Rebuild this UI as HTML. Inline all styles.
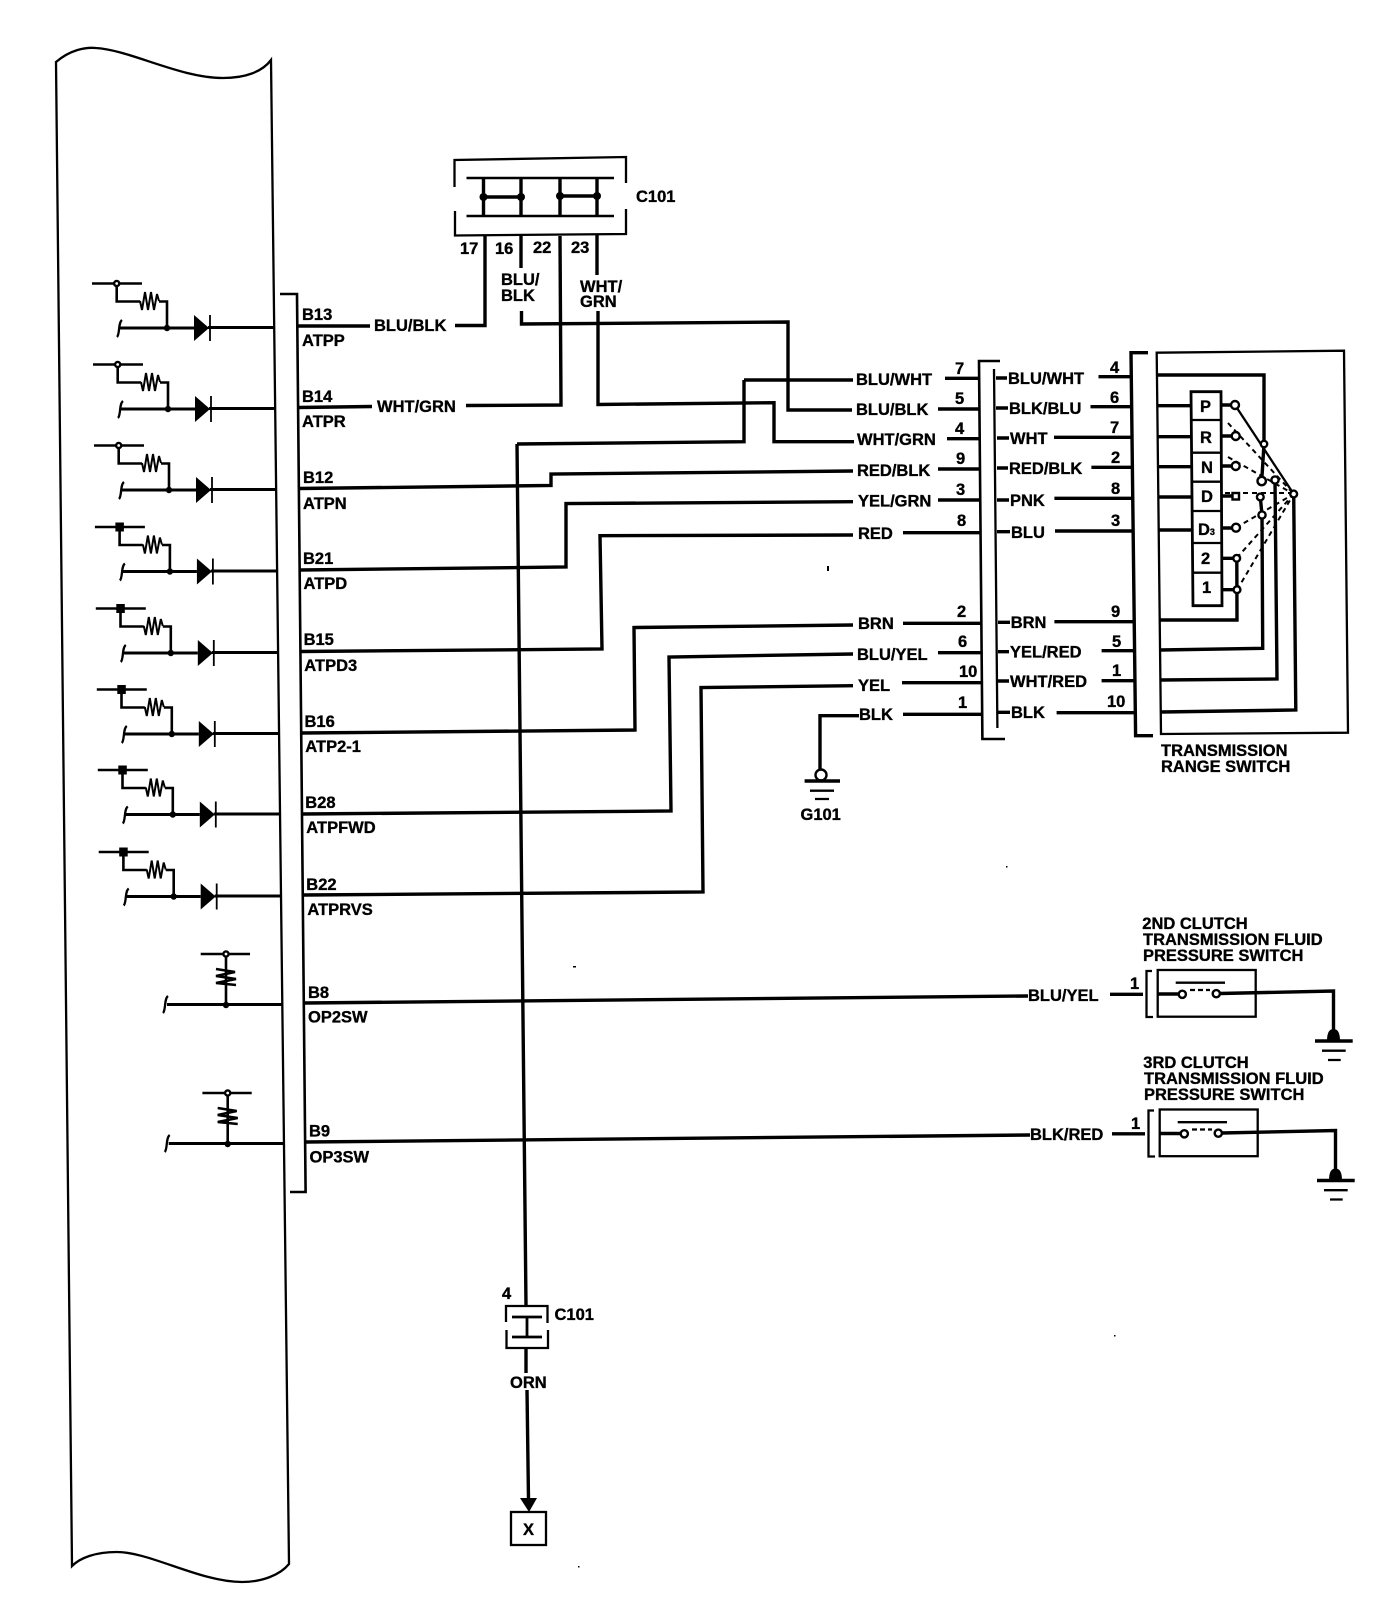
<!DOCTYPE html>
<html><head><meta charset="utf-8"><style>
html,body{margin:0;padding:0;background:#fff;width:1392px;height:1612px;overflow:hidden}
svg{display:block}
text{font-family:"Liberation Sans",sans-serif;font-weight:bold;font-size:16.5px;fill:#000;stroke:#000;stroke-width:.35}
.w{fill:none;stroke:#000;stroke-width:3.4}
.t{fill:none;stroke:#000;stroke-width:2.3}
.d{fill:none;stroke:#000;stroke-width:2;stroke-dasharray:5 4}
.n{fill:#fff;stroke:#000;stroke-width:2.4}
</style></head><body>
<svg width="1392" height="1612" viewBox="0 0 1392 1612" xmlns="http://www.w3.org/2000/svg">
<defs>
<g id="base">
<path class="t" d="M92 283.5H142M116.7 283.5V301.5H140M159 301.5H167V328" style="stroke-width:2.6"/>
<polyline points="140,301 142,310 145,292 148,310 151,292 154,310 157,294 159,301" fill="none" stroke="#000" stroke-width="2"/>
<path class="w" d="M120 328H194M208 327.5H275" style="stroke-width:3"/>
<path class="t" d="M122 320C118 323 120 334 117 337"/>
<circle cx="167" cy="328" r="3.2"/>
<polygon points="194,315 194,341 209,328"/>
<path d="M210 315V341" stroke="#000" stroke-width="1.8"/>
</g>
<g id="openrow"><use href="#base"/><circle class="n" cx="116.7" cy="283.5" r="2.6"/></g>
<g id="fillrow"><use href="#base"/><rect x="112.5" y="279" width="8.5" height="9"/></g>
<g id="srow">
<path class="t" d="M200.7 954H250M226 954V1005" style="stroke-width:2.6"/>
<path d="M216 969L235 972L216 976L236 979L216 983L236 985" fill="none" stroke="#000" stroke-width="2.6"/>
<path class="w" d="M167 1004.5H282" style="stroke-width:3"/>
<path class="t" d="M168 996C164 999 166 1010 163 1013"/>
<circle cx="226" cy="1005" r="3.2"/>
<circle class="n" cx="226" cy="954" r="2.6"/>
</g>
<g id="clutch">
<path class="w" d="M1110 994.3H1143" />
<path class="t" d="M1152 971H1146.5V1017H1153"/>
<rect class="t" x="1157.7" y="970" width="98" height="46.7"/>
<path class="w" d="M1158 994H1178M1220 993.5L1333.5 991V1033"/>
<circle class="n" cx="1182.3" cy="994.3" r="3.6"/>
<circle class="n" cx="1216.3" cy="993.7" r="3.6"/>
<path class="t" d="M1175.7 982.7H1225"/>
<path class="t" d="M1190 990H1210" stroke-dasharray="5 3"/>
<path d="M1327 1041C1327 1033 1329 1029 1333.5 1029C1338 1029 1340 1033 1340 1041Z"/>
<path class="w" d="M1315 1041H1352.7"/>
<path class="t" d="M1322 1050.7H1345.7M1328 1060H1340.7"/>
</g>
</defs>

<!-- panel -->
<path class="t" d="M56 62C70 50 85 47 96 48C130 50 180 78 223 78C245 78 262 72 271 60L289 1564C280 1575 262 1582 242 1582C200 1582 150 1552 117 1552C95 1552 80 1558 72 1566Z"/>

<!-- signal rows -->
<use href="#openrow"/>
<use href="#openrow" transform="translate(1,81)"/>
<use href="#openrow" transform="translate(2,162)"/>
<use href="#fillrow" transform="translate(2.9,243.5)"/>
<use href="#fillrow" transform="translate(3.8,325)"/>
<use href="#fillrow" transform="translate(4.8,406)"/>
<use href="#fillrow" transform="translate(5.8,486.5)"/>
<use href="#fillrow" transform="translate(6.7,568.5)"/>
<use href="#srow"/>
<use href="#srow" transform="translate(1.7,139)"/>

<!-- inner connector -->
<path class="t" d="M280 294H297L305.6 1192H290" style="stroke-width:2.6"/>

<!-- C101 top -->
<path class="t" d="M454.5 187V160L626 157V183M626 209V234L455 235.5V211"/>
<path class="w" d="M466.5 178H614M466.5 216H614" style="stroke-width:2.6"/>
<path class="w" d="M483.5 178V216M521 178V216M560 178V216M597 178V216"/>
<path class="w" d="M483.5 197H521M560 196H597"/>
<circle cx="483.5" cy="197" r="4"/><circle cx="521" cy="197" r="4"/><circle cx="560" cy="196" r="4"/><circle cx="597" cy="196" r="4"/>

<!-- main wires -->
<g class="w" fill="none">
<path class="w" d="M297 326H370"/>
<path class="w" d="M455 325.5H485V236"/>
<path class="w" d="M521 236V268M521.5 311V324L788 322V410H852"/>
<path class="w" d="M298 407.5L372 406.5"/>
<path class="w" d="M466 405.5L561 405L560 236"/>
<path class="w" d="M597 234V275M598 311V404.5L774 402.7V441.7H854"/>
<path class="w" d="M744 380H853M517 444L744 441.7V380M517 444L526 1306M526 1348V1373M527 1390L528.5 1500"/>
<path class="w" d="M299 488.5L551 485.5V474L853 471"/>
<path class="w" d="M300 570L566 567V503.6L853 501.7"/>
<path class="w" d="M301 651.5L602 649L600 535.7L853 535"/>
<path class="w" d="M302 733L635 730L634 627.5L853 625"/>
<path class="w" d="M303 814L671 811L669 657L853 654"/>
<path class="w" d="M304 895L703 892L701 687.5L853 685.7"/>
<path class="w" d="M305 1003L1028 996"/>
<path class="w" d="M306 1142L1030 1135"/>
<path class="w" d="M820 770V715.7H859"/>
</g>

<!-- lower C101 & X -->
<path class="t" d="M506 1322V1306H547.5V1323M506.5 1330V1348H548V1330"/>
<path class="w" d="M512 1317H542M512 1337H542M527 1317V1337" style="stroke-width:2.8"/>
<polygon points="520,1498 537,1498 529,1512"/>
<rect class="t" x="511" y="1512" width="35" height="33"/>

<!-- G101 -->
<circle class="n" cx="821" cy="775" r="5.5"/>
<path class="w" d="M804.6 781H840"/>
<path class="t" d="M810 790.7H834M815 799H829"/>

<!-- left connector 2 -->
<path class="t" d="M1000 361H979L982.4 739H1005" style="stroke-width:2.6"/>
<path class="t" d="M994 369L997.4 728"/>
<g class="w">
<path class="w" d="M945 378.3H979M938 409H980M947 438.7H980M938 469H980M938 500H980M903 532.7H981M903 623.3H981M938 652.7H982M902 682.7H982M903 714.3H982"/>
<path class="w" d="M996 378H1007M996 408H1008M997 438H1009M997 468H1008M997 500H1009M997 531.7H1010M998 622.3H1010M998 651.7H1009M998 681H1009M998 712.3H1010"/>
<path class="w" d="M1098.5 376.7H1131M1090.5 406.7H1131M1054 437.3H1132M1091.4 467.3H1132M1054.4 498.3H1133M1055 531H1133M1054.4 621.7H1134M1101.6 650.7H1134M1101.6 680.7H1134M1056.6 712.7H1135"/>
</g>

<!-- right connector -->
<path class="w" d="M1148 352.7H1131L1135.6 735.7H1153"/>
<path class="t" d="M1156.7 352.7L1344 350.7L1348 732.7L1161 734Z"/>

<!-- switch stack -->
<path class="w" d="M1191 391.7H1221L1222 605.7H1193Z" fill="#fff" style="stroke-width:2.8"/>
<path class="t" d="M1191 420H1221M1191.5 452.7H1221M1192 481.7H1221.5M1192 511H1221.5M1192.5 543H1222M1192.5 572.7H1222"/>
<path class="w" d="M1158 375H1264V444M1158 405.7H1191M1158 436.7H1191M1158 466.7H1192M1158 497H1192M1158 530H1192"/>
<path class="w" d="M1221 405H1232M1221 436H1232M1221 466H1232M1221.5 496H1232M1222 528H1232M1222 558.3H1233M1222 589.7H1233"/>
<path class="w" d="M1236.8 558.3L1237 620L1159 620"/>
<path class="w" d="M1264 444L1261.7 481"/>
<path class="w" d="M1260.3 497L1262 515L1262.7 648.3L1160 650"/>
<path class="w" d="M1275 480L1277 679L1160 680"/>
<path class="w" d="M1293.7 494L1295.8 710L1161 712"/>
<path class="t" d="M1235 405L1293.7 494"/>
<path class="d" d="M1228 423L1293.7 494M1228 457L1293.7 494M1225 493H1293.7M1236 527.7L1293.7 494M1236.7 558L1293.7 494M1237 590L1293.7 494"/>
<circle class="n" cx="1235" cy="405" r="4"/>
<circle class="n" cx="1235.7" cy="436" r="4"/>
<circle class="n" cx="1235.7" cy="466" r="4"/>
<rect class="n" x="1232.5" y="493" width="6.5" height="6.5"/>
<circle class="n" cx="1236" cy="527.7" r="4"/>
<circle class="n" cx="1236.7" cy="558.3" r="3.4"/>
<circle class="n" cx="1237" cy="589.7" r="3.4"/>
<circle class="n" cx="1264" cy="444" r="3.2"/>
<circle class="n" cx="1261.7" cy="481" r="4.2"/>
<circle class="n" cx="1275" cy="480" r="3.6"/>
<circle class="n" cx="1260.3" cy="497" r="3.4"/>
<circle class="n" cx="1262" cy="515" r="3.6"/>
<circle class="n" cx="1293.7" cy="494" r="3.4"/>

<!-- clutch switches -->
<use href="#clutch"/>
<use href="#clutch" transform="translate(2,139.5)"/>

<!-- specks -->
<rect x="827" y="566" width="2" height="5"/><rect x="1006" y="866" width="1.5" height="1.5"/><rect x="573" y="966" width="3" height="1.5"/><rect x="578" y="1566" width="1.5" height="1.5"/><rect x="1114" y="1335" width="1.5" height="1.5"/>

<!-- labels: C101 -->
<text x="636" y="202">C101</text>
<text x="460" y="254">17</text><text x="495" y="254">16</text><text x="533" y="253">22</text><text x="571" y="253">23</text>
<text x="501" y="285">BLU/</text><text x="501" y="301">BLK</text>
<text x="580" y="292">WHT/</text><text x="580" y="307">GRN</text>
<text x="374" y="331">BLU/BLK</text>
<text x="377" y="412">WHT/GRN</text>

<!-- pins -->
<text x="302" y="320">B13</text><text x="302" y="346">ATPP</text>
<text x="302" y="402">B14</text><text x="302" y="427">ATPR</text>
<text x="303" y="483">B12</text><text x="303" y="509">ATPN</text>
<text x="303" y="564">B21</text><text x="303.5" y="589">ATPD</text>
<text x="303.6" y="645">B15</text><text x="304.3" y="671">ATPD3</text>
<text x="304.5" y="727">B16</text><text x="305.3" y="752">ATP2-1</text>
<text x="305.3" y="808">B28</text><text x="306.3" y="833">ATPFWD</text>
<text x="306.3" y="890">B22</text><text x="307.4" y="915">ATPRVS</text>
<text x="308" y="998">B8</text><text x="308" y="1022.5">OP2SW</text>
<text x="309" y="1136.5">B9</text><text x="309.5" y="1162.5">OP3SW</text>

<!-- harness labels -->
<text x="856" y="385">BLU/WHT</text><text x="856" y="415">BLU/BLK</text><text x="857" y="445">WHT/GRN</text><text x="857" y="476">RED/BLK</text><text x="858" y="506.5">YEL/GRN</text><text x="858" y="539">RED</text><text x="858" y="629">BRN</text><text x="857" y="660">BLU/YEL</text><text x="858" y="691">YEL</text><text x="859" y="720">BLK</text>
<text x="955" y="374">7</text><text x="955" y="404">5</text><text x="955" y="434">4</text><text x="956" y="464">9</text><text x="956" y="495">3</text><text x="957" y="526">8</text><text x="957" y="617">2</text><text x="958" y="647">6</text><text x="959" y="677">10</text><text x="958" y="708">1</text>
<text x="1008" y="384">BLU/WHT</text><text x="1009" y="414">BLK/BLU</text><text x="1010" y="444">WHT</text><text x="1009" y="474">RED/BLK</text><text x="1010" y="506">PNK</text><text x="1011" y="538">BLU</text><text x="1010.7" y="628">BRN</text><text x="1010" y="657.5">YEL/RED</text><text x="1010" y="687">WHT/RED</text><text x="1011" y="718">BLK</text>
<text x="1110" y="373">4</text><text x="1110" y="403">6</text><text x="1110" y="433">7</text><text x="1111" y="463">2</text><text x="1111" y="494">8</text><text x="1111" y="526">3</text><text x="1111" y="617">9</text><text x="1112" y="647">5</text><text x="1112" y="676">1</text><text x="1107" y="707">10</text>

<!-- switch letters -->
<text x="1200" y="412">P</text><text x="1200" y="443">R</text><text x="1201" y="473">N</text><text x="1201" y="502">D</text>
<text x="1198" y="535">D<tspan font-size="9">3</tspan></text>
<text x="1201" y="564">2</text><text x="1202" y="593">1</text>

<text x="1161" y="756">TRANSMISSION</text><text x="1161" y="772">RANGE SWITCH</text>
<text x="800.5" y="820">G101</text>

<text x="1028" y="1001">BLU/YEL</text><text x="1030" y="1140">BLK/RED</text>
<text x="1142.3" y="929">2ND CLUTCH</text><text x="1143" y="945">TRANSMISSION FLUID</text><text x="1143" y="961">PRESSURE SWITCH</text>
<text x="1130" y="989">1</text>
<text x="1143.3" y="1068">3RD CLUTCH</text><text x="1144" y="1084">TRANSMISSION FLUID</text><text x="1144" y="1100">PRESSURE SWITCH</text>
<text x="1131" y="1129">1</text>

<text x="502" y="1299">4</text><text x="554.5" y="1320">C101</text>
<text x="510" y="1388">ORN</text>
<text x="523" y="1535">X</text>
</svg>
</body></html>
